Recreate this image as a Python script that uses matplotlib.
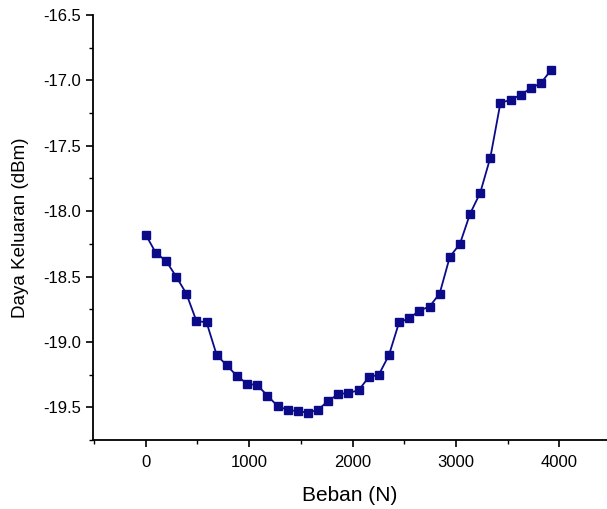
import numpy as np
import matplotlib.pyplot as plt
from matplotlib.ticker import MultipleLocator

plt.rcParams['font.family'] = ['Liberation Sans', 'DejaVu Sans']

# load steps of 98 N (10 kg each)
beban = [98 * i for i in range(41)]

daya = [-18.18, -18.32, -18.38, -18.50, -18.63, -18.84, -18.85, -19.10, -19.18, -19.26,
        -19.32, -19.33, -19.41, -19.49, -19.52, -19.53, -19.54, -19.52, -19.45, -19.40,
        -19.39, -19.37, -19.27, -19.25, -19.10, -18.85, -18.82, -18.76, -18.73, -18.63,
        -18.35, -18.25, -18.02, -17.86, -17.59, -17.17, -17.15, -17.11, -17.06, -17.02,
        -16.92]

color = '#0b0b8a'

fig = plt.figure(figsize=(6.07, 5.09), dpi=100)
ax = fig.add_axes([93 / 607, 69 / 509, 514 / 607, 425 / 509])

ax.plot(beban, daya, '-s', color=color, lw=1.3, markersize=6.3,
        markerfacecolor=color, markeredgecolor=color)

ax.set_xlim(-510, 4460)
ax.set_ylim(-19.75, -16.5)

ax.xaxis.set_major_locator(MultipleLocator(1000))
ax.xaxis.set_minor_locator(MultipleLocator(500))
ax.yaxis.set_major_locator(MultipleLocator(0.5))
ax.yaxis.set_minor_locator(MultipleLocator(0.25))
ax.yaxis.set_major_formatter(plt.FormatStrFormatter('%.1f'))

ax.spines['top'].set_visible(False)
ax.spines['right'].set_visible(False)
for s in ('left', 'bottom'):
    ax.spines[s].set_linewidth(1.3)

ax.tick_params(which='major', direction='out', length=5, width=1.2, labelsize=12)
ax.tick_params(axis='x', which='major', pad=6)
ax.tick_params(which='minor', direction='out', length=3, width=1.0)

ax.set_xlabel('Beban (N)', fontsize=15, labelpad=11)
ax.set_ylabel('Daya Keluaran (dBm)', fontsize=13.5, labelpad=10)

fig.savefig('out.png', dpi=100)
